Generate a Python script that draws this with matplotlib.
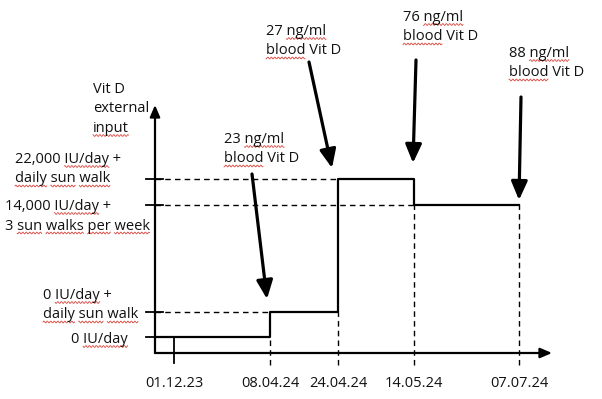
import numpy as np
import matplotlib
matplotlib.use("Agg")
import matplotlib.pyplot as plt
from matplotlib.font_manager import FontProperties

# --- schematic data (x: distance right of the y-axis, y: height above the x-axis) ---
dates = ["01.12.23", "08.04.24", "24.04.24", "14.05.24", "07.07.24"]
date_x = [19, 115, 183, 259, 364]
level_lines = [
    ["0 IU/day"],
    ["0 IU/day +", "daily sun walk"],
    ["14,000 IU/day +", "3 sun walks per week"],
    ["22,000 IU/day +", "daily sun walk"],
]
level_y = [16, 41, 148, 174]
step_start = [0, 115, 183, 259]      # where each input period starts
step_level = [0, 1, 3, 2]            # index into level_y for each period
step_end = 364
blood_ng = [23, 27, 76, 88]
blood_date = [1, 2, 3, 4]            # index into dates
y_axis_title = ["Vit D", "external", "input"]

# --- layout (pixels) ---
W, H, DPI = 602, 399, 100
X0, Y0 = 155, 353                    # origin in image pixels
FONT = ["Open Sans", "DejaVu Sans"]
FS = 10.5
RED = "#d8423a"
LINE_GAP = 19.5
DASH = (0, (4, 3))
# left x / first baseline (image px) of the y labels
level_text_pos = [(71, 343), (43, 299), (5, 210), (15, 163)]
title_pos = (93, 93)
# per annotation: text left/baseline (image px), arrow tail (image px), tip offset from mark
ann_layout = [
    dict(text=(224, 143), tail=(252, 174), tip=(-3, 13)),
    dict(text=(266, 35), tail=(309, 62), tip=(-6, 11)),
    dict(text=(403, 21), tail=(416, 60), tip=(-1, 16)),
    dict(text=(509, 57), tail=(521, 97), tip=(0, 5)),
]
# words that carry the red spell-check squiggle
marks_lookup = {
    "input": ["input"],
    "0 IU/day": ["IU/day"], "0 IU/day +": ["IU/day"],
    "14,000 IU/day +": ["IU/day"], "22,000 IU/day +": ["IU/day"],
    "daily sun walk": ["daily", "sun", "walk"],
    "3 sun walks per week": ["sun", "walks", "per", "week"],
    "blood Vit D": ["blood"],
}


def px(x, y):
    return x - X0, Y0 - y


def levels_at(x):
    """Input levels on either side of x (one value at the ends)."""
    seg_y = [level_y[l] for l in step_level]
    out = [seg_y[j] for j in range(len(step_start)) if step_start[j] == x]
    out += [seg_y[j - 1] for j in range(1, len(step_start)) if step_start[j] == x]
    if x == step_end:
        out.append(seg_y[-1])
    return out


fig = plt.figure(figsize=(W / DPI, H / DPI), dpi=DPI)
ax = fig.add_axes([0, 0, 1, 1])
ax.set_xlim(-X0, W - X0)
ax.set_ylim(Y0 - H, Y0)
ax.axis("off")
renderer = fig.canvas.get_renderer()
prop = FontProperties(family=FONT, size=FS)


def text_w(s):
    w, _, _ = renderer.get_text_width_height_descent(s, prop, ismath=False)
    return w


def put_line(x, y, s, ha="left"):
    ax.text(x, y, s, ha=ha, va="baseline", fontproperties=prop, color="#111111")
    marks = ["ng/ml"] if "ng/ml" in s else marks_lookup.get(s, [])
    left = x if ha == "left" else x - text_w(s) / 2
    for word in marks:
        end = s.index(word) + len(word)
        x1 = left + text_w(s[:end])
        x0 = x1 - text_w(word)
        xs = np.arange(x0, x1, 0.5)
        ax.plot(xs, y - 3.5 + 0.9 * np.sin(xs * 2 * np.pi / 3.5), color=RED, lw=0.6)


# axes with arrowheads
axis_arrow = dict(arrowstyle="-|>,head_length=0.7,head_width=0.3",
                  lw=1.6, color="k", shrinkA=0, shrinkB=0, mutation_scale=10)
ax.annotate("", xy=(397, 0), xytext=(0, 0), arrowprops=axis_arrow)
ax.annotate("", xy=(0, 248), xytext=(0, 0), arrowprops=axis_arrow)

# y ticks
for ly in level_y:
    ax.plot([-9, 8], [ly, ly], color="k", lw=1.3)

# step line
xs = step_start + [step_end]
ys = [level_y[l] for l in step_level]
ax.plot(xs, ys + ys[-1:], drawstyle="steps-post", color="k", lw=1.6)

# dashed guides to the y-axis
for start, lev in zip(step_start[1:], step_level[1:]):
    ax.plot([0, start], [level_y[lev]] * 2, color="k", lw=1.0, linestyle=DASH)

# first date: solid tick; others: dashed drop lines
ax.plot([date_x[0]] * 2, [-10, level_y[0]], color="k", lw=1.3)
for dx in date_x[1:]:
    ax.plot([dx, dx], [-12, min(levels_at(dx))], color="k", lw=1.0, linestyle=DASH)

# date labels
for d, dx in zip(dates, date_x):
    put_line(dx, Y0 - 387, d, ha="center")

# y labels
for lines, (lx, ly) in zip(level_lines, level_text_pos):
    for k, s in enumerate(lines):
        put_line(*px(lx, ly + k * LINE_GAP), s)
for k, s in enumerate(y_axis_title):
    put_line(*px(title_pos[0], title_pos[1] + k * LINE_GAP), s)

# blood measurements, arrows point at the top of the step on that date
ann_arrow = dict(arrowstyle="-|>,head_length=0.8,head_width=0.35",
                 lw=2.3, color="k", shrinkA=0, shrinkB=0, mutation_scale=14)
for val, di, lay in zip(blood_ng, blood_date, ann_layout):
    dx = date_x[di]
    ly = max(levels_at(dx))
    tip = (dx + lay["tip"][0], ly + lay["tip"][1])
    ax.annotate("", xy=tip, xytext=px(*lay["tail"]), arrowprops=ann_arrow)
    tx, ty = px(*lay["text"])
    put_line(tx, ty, f"{val} ng/ml")
    put_line(tx, ty - LINE_GAP, "blood Vit D")

fig.savefig("out.png", dpi=DPI)
